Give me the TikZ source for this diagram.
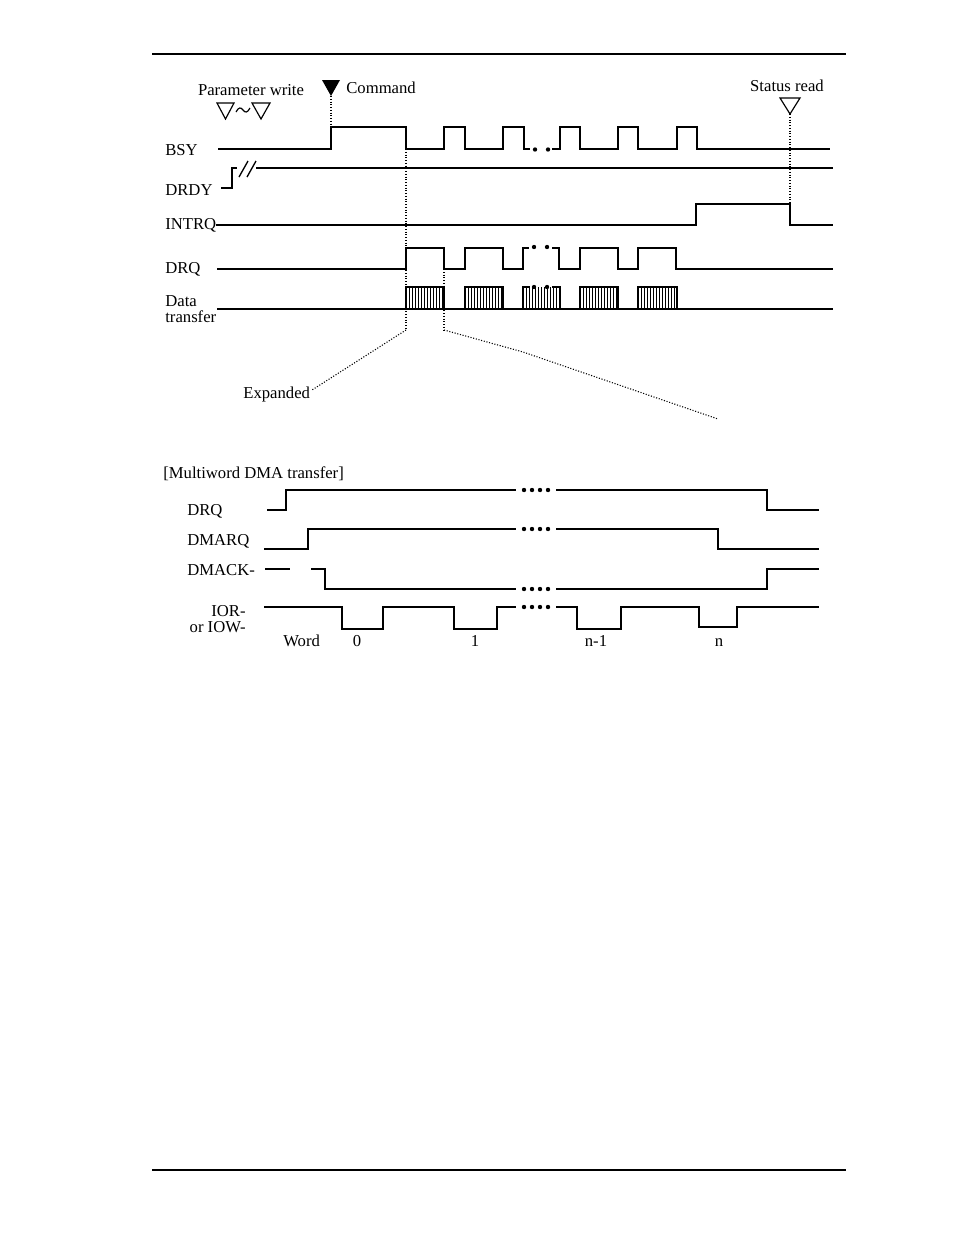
\documentclass[tikz,border=0pt]{standalone}
\usepackage{fontspec}
\setmainfont{Liberation Serif}
\begin{document}
\begin{tikzpicture}[x=0.6pt,y=-0.6pt,
  sig/.style={line width=1.25pt,line join=miter,line cap=butt},
  rule/.style={line width=1.2pt},
  lbl/.style={font=\fontsize{10}{12}\selectfont,inner sep=0pt},
  dotln/.style={line width=0.65pt,densely dotted},
  tri/.style={line width=0.7pt,line join=miter},
  bigdot/.style={fill=black,circle,inner sep=0pt,minimum size=2.6pt},
  stripe/.style={line width=0.6pt}]
\useasboundingbox (0,0) rectangle (954,1235);
% page rules
\draw[rule] (152,54) -- (846,54);
\draw[rule] (152,1170) -- (846,1170);

% ---------- top labels ----------
\node[lbl,anchor=base] (pw) at (251,95) {Parameter write};
\draw[tri] (217,103) -- (234,103) -- (225.5,119) -- cycle;
\draw[tri] (252,103) -- (270,103) -- (261,119) -- cycle;
\draw[line width=0.7pt] (236,112) .. controls (238.5,107) and (241,107) .. (243,110) .. controls (245,113) and (247.5,113) .. (250,108);
\fill (322,80) -- (340,80) -- (331,96) -- cycle;
\node[lbl,anchor=base west] (cmd) at (346,93) {Command};
\node[lbl,anchor=base] (sr) at (787,91) {Status read};
\draw[tri] (780,98) -- (800,98) -- (790,114) -- cycle;
\draw[dotln] (331,96) -- (331,127);
\draw[dotln] (790,114) -- (790,204);

\node[lbl,anchor=base west] (bsy) at (165,155) {BSY};
\node[lbl,anchor=base west] (drdy) at (165,195) {DRDY};
\node[lbl,anchor=base west] (intrq) at (165,229) {INTRQ};
\node[lbl,anchor=base west] (drq) at (165,273) {DRQ};
\node[lbl,anchor=base west] (data) at (165,306) {Data};
\node[lbl,anchor=base west] (xfer) at (165,322) {transfer};

% BSY
\draw[sig] (218,149) -- (331,149) -- (331,127) -- (406,127) -- (406,149) -- (444,149) -- (444,127) -- (465,127) -- (465,149) -- (503,149) -- (503,127) -- (524,127) -- (524,149) -- (530,149);
\node[bigdot] (bd1) at (535,149.5) {};
\node[bigdot] (bd2) at (548,149.5) {};
\draw[sig] (552,149) -- (560,149) -- (560,127) -- (580,127) -- (580,149) -- (618,149) -- (618,127) -- (638,127) -- (638,149) -- (677,149) -- (677,127) -- (697,127) -- (697,149) -- (830,149);

% DRDY
\draw[sig] (221,188) -- (232,188) -- (232,168) -- (237,168);
\draw[line width=0.8pt] (239,177) -- (248,161);
\draw[line width=0.8pt] (247,177) -- (256,161);
\draw[sig] (256,168) -- (833,168);

% INTRQ
\draw[sig] (216,225) -- (696,225) -- (696,204) -- (790,204) -- (790,225) -- (833,225);

% DRQ
\draw[sig] (217,269) -- (406,269) -- (406,248) -- (444,248) -- (444,269) -- (465,269) -- (465,248) -- (503,248) -- (503,269) -- (523,269) -- (523,248) -- (529,248);
\node[bigdot] (dd1) at (534,247) {};
\node[bigdot] (dd2) at (547,247) {};
\draw[sig] (552,248) -- (559,248) -- (559,269) -- (580,269) -- (580,248) -- (618,248) -- (618,269) -- (638,269) -- (638,248) -- (676,248) -- (676,269) -- (833,269);

% Data transfer
\draw[sig] (217,309) -- (833,309);
\foreach \a/\b in {406/444,465/503,580/618,638/677}{
  \foreach \k in {3,6,...,36}{\draw[stripe] ({\a+\k},287) -- ({\a+\k},309);}
  \draw[sig] (\a,309) -- (\a,287) -- (\b,287) -- (\b,309);
}
\foreach \k in {3,6,...,36}{\draw[stripe] ({523+\k},287) -- ({523+\k},309);}
\draw[sig] (523,309) -- (523,287) -- (530,287);
\draw[sig] (552,287) -- (560,287) -- (560,309);
\node[bigdot] (td1) at (534,287) {};
\node[bigdot] (td2) at (547,287) {};

% expansion guides
\node[lbl,anchor=base west] (exp) at (243,398) {Expanded};
\coordinate (expend) at (312,390);
\draw[dotln,line width=0.9pt] (406,149) -- (406,330);
\draw[dotln] (406,330) -- (expend);
\draw[dotln,line width=0.9pt] (444,269) -- (444,330);
\draw[dotln] (444,330) -- (523,352) -- (718,419);

% ---------- bottom ----------
\node[lbl,anchor=base west] (mdma) at (163,478) {[Multiword DMA transfer]};
\node[lbl,anchor=base west] (bdrq) at (187,515) {DRQ};
\node[lbl,anchor=base west] (dmarq) at (187,545) {DMARQ};
\node[lbl,anchor=base west] (dmack) at (187,575) {DMACK-};
\node[lbl,anchor=base east] (ior) at (246,616) {IOR-};
\node[lbl,anchor=base east] (iow) at (246,632) {or IOW-};
\node[lbl,anchor=base west] (word) at (283,646) {Word};
\node[lbl,anchor=base] (w0) at (357,646) {0};
\node[lbl,anchor=base] (w1) at (475,646) {1};
\node[lbl,anchor=base] (wn1) at (596,646) {n-1};
\node[lbl,anchor=base] (wn) at (719,646) {n};

\draw[sig] (267,510) -- (286,510) -- (286,490) -- (516,490);
\draw[sig] (556,490) -- (767,490) -- (767,510) -- (819,510);
\draw[sig] (264,549) -- (308,549) -- (308,529) -- (516,529);
\draw[sig] (556,529) -- (718,529) -- (718,549) -- (819,549);
\draw[sig] (265,569) -- (290,569);
\draw[sig] (311,569) -- (325,569) -- (325,589) -- (516,589);
\draw[sig] (556,589) -- (767,589) -- (767,569) -- (819,569);
\draw[sig] (264,607) -- (342,607) -- (342,629) -- (383,629) -- (383,607) -- (454,607) -- (454,629) -- (497,629) -- (497,607) -- (516,607);
\draw[sig] (556,607) -- (577,607) -- (577,629) -- (621,629) -- (621,607) -- (699,607) -- (699,627) -- (737,627) -- (737,607) -- (819,607);
\foreach \yy in {490,529,589,607}{
  \foreach \xx in {524,532,540,548}{\fill (\xx,\yy) circle (2.2);}
}
\end{tikzpicture}
\end{document}
